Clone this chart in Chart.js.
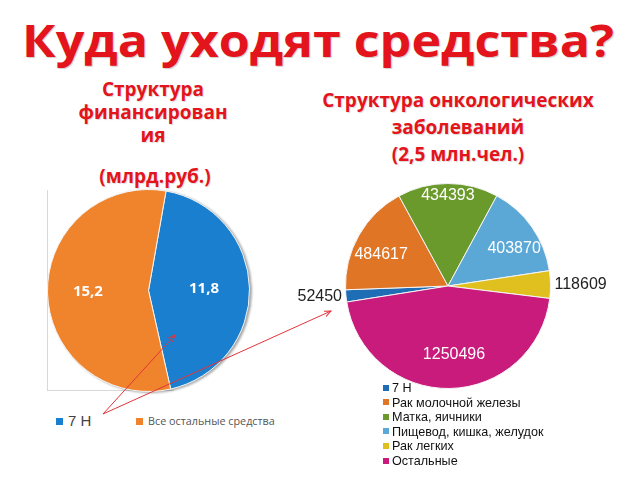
<!DOCTYPE html>
<html>
<head>
<meta charset="utf-8">
<script src="https://cdn.jsdelivr.net/npm/chart.js@4.4.1/dist/chart.umd.min.js"></script>
<style>
  body { margin: 0; background: #fff; }
  #page { position: relative; width: 640px; height: 480px; overflow: hidden; font-family: "Open Sans", sans-serif; }
  .red { color: #e3141c; font-weight: bold; text-align: center; position: absolute; text-shadow: 1px 1px 1px rgba(0,0,0,0.15); }
  canvas { position: absolute; }
  .legend { position: absolute; }
  .legend .item { position: relative; white-space: nowrap; }
  .legend .sw { display: inline-block; }
</style>
</head>
<body>
<div id="page">
  <svg width="640" height="70" style="position:absolute;left:0;top:0">
    <text x="318" y="57" text-anchor="middle" textLength="592" lengthAdjust="spacingAndGlyphs"
      font-family="Open Sans" font-weight="bold" font-size="45" fill="#e3141c"
      style="text-shadow:1px 1px 1px rgba(0,0,0,0.2)">Куда уходят средства?</text>
  </svg>
  <div class="red" style="left:48px;top:78px;width:210px;font-size:19px;line-height:23px">Структура<br>финансирован<br>ия</div>
  <div class="red" style="left:50px;top:164px;width:210px;font-size:19px;line-height:24px">(млрд.руб.)</div>
  <div class="red" style="left:300px;top:87px;width:316px;font-size:19px;line-height:27px">Структура онкологических<br>заболеваний<br>(2,5 млн.чел.)</div>

  <div style="position:absolute;left:47px;top:190px;width:126px;height:200px;border-left:1px solid #d8d8d8;border-bottom:1px solid #d8d8d8"></div>
  <canvas id="fund" width="203" height="203" style="left:47px;top:189px;filter:drop-shadow(2px 1px 1px rgba(0,0,0,0.35))"></canvas>
  <canvas id="onco" width="320" height="206" style="left:288px;top:183px"></canvas>

  <div id="fundLegend" class="legend" style="left:56px;top:412px"></div>
  <div id="oncoLegend" class="legend" style="left:383px;top:381px"></div>

  <svg width="640" height="480" style="position:absolute;left:0;top:0;pointer-events:none">
    <defs>
      <marker id="ah" markerWidth="8" markerHeight="8" refX="7" refY="4" orient="auto" markerUnits="userSpaceOnUse">
        <path d="M0,1 L7,4 L0,7" fill="none" stroke="#e2343a" stroke-width="1"/>
      </marker>
    </defs>
    <line x1="103" y1="414" x2="175" y2="335" stroke="#e2343a" stroke-width="1" marker-end="url(#ah)"/>
    <line x1="103" y1="414" x2="331" y2="311" stroke="#e2343a" stroke-width="1" marker-end="url(#ah)"/>
  </svg>
</div>
<script>
// left pie: financing structure, bln rub
const fundLabels = ['7 Н', 'Все остальные средства'];
const fundValues = [11.8, 15.2];
const fundColors = ['#1b7fd0', '#f0842c'];

// right pie: cancer structure, people
const oncoLabels = ['7 Н', 'Рак молочной железы', 'Матка, яичники', 'Пищевод, кишка, желудок', 'Рак легких', 'Остальные'];
const oncoValues = [52450, 484617, 434393, 403870, 118609, 1250496];
const oncoColors = ['#1f6db5', '#e07526', '#6b9a2c', '#5ba8d6', '#e0c01e', '#c91b7b'];

// draws value labels on the slices; radius factor > 1 means outside the pie
const sliceLabels = {
  id: 'sliceLabels',
  afterDatasetsDraw(chart, args, opts) {
    const ctx = chart.ctx;
    const meta = chart.getDatasetMeta(0);
    const data = chart.data.datasets[0].data;
    ctx.save();
    ctx.font = opts.font;
    ctx.textBaseline = 'middle';
    meta.data.forEach((arc, i) => {
      const mid = (arc.startAngle + arc.endAngle) / 2 + (opts.shift ? opts.shift[i] : 0);
      const f = opts.radius[i];
      const text = opts.format(data[i]);
      if (f > 1) {
        const r = arc.outerRadius + 4;
        ctx.fillStyle = opts.outsideColor;
        ctx.textAlign = Math.cos(mid) < 0 ? 'right' : 'left';
        ctx.fillText(text, arc.x + Math.cos(mid) * r, arc.y + Math.sin(mid) * r);
      } else {
        const r = arc.outerRadius * f;
        ctx.fillStyle = opts.color;
        ctx.textAlign = 'center';
        ctx.fillText(text, arc.x + Math.cos(mid) * r, arc.y + Math.sin(mid) * r);
      }
    });
    ctx.restore();
  }
};

function pie(id, labels, values, colors, rotation, padding, labelOpts) {
  return new Chart(document.getElementById(id), {
    type: 'pie',
    data: {
      labels: labels,
      datasets: [{
        data: values,
        backgroundColor: colors,
        borderColor: '#f4f4f4',
        borderWidth: 1
      }]
    },
    options: {
      responsive: false,
      animation: false,
      rotation: rotation,
      layout: { padding: padding },
      plugins: {
        legend: { display: false },
        tooltip: { enabled: false },
        sliceLabels: labelOpts
      }
    },
    plugins: [sliceLabels]
  });
}

pie('fund', fundLabels, fundValues, fundColors, 10, 0, {
  font: 'bold 15px "Open Sans"',
  color: '#fff',
  outsideColor: '#000',
  radius: [0.55, 0.6],
  format: v => String(v).replace('.', ',')
});

pie('onco', oncoLabels, oncoValues, oncoColors, 261, { left: 57, right: 57 }, {
  font: '16px "Liberation Sans", Arial',
  color: '#fff',
  outsideColor: '#222',
  radius: [1.1, 0.72, 0.88, 0.74, 1.1, 0.67],
  shift: [0, -0.08, 0, 0.1, 0, -0.07],
  format: v => String(v)
});

// legends built from the same arrays
function legend(el, labels, colors, style) {
  const box = document.getElementById(el);
  labels.forEach((lab, i) => {
    const item = document.createElement('div');
    item.className = 'item';
    item.style.cssText = style.item(i);
    const sw = document.createElement('span');
    sw.className = 'sw';
    sw.style.cssText = 'width:' + style.sw + 'px;height:' + style.sw + 'px;background:' + colors[i] + ';margin-right:' + style.gap + 'px;vertical-align:middle;position:relative;top:-1px';
    item.appendChild(sw);
    item.appendChild(document.createTextNode(lab));
    box.appendChild(item);
  });
}

legend('fundLegend', fundLabels, fundColors, {
  sw: 7, gap: 5,
  item: i => i === 0
    ? 'position:absolute;left:0;top:0;font:15px "Liberation Sans",Arial;color:#444;line-height:18px'
    : 'position:absolute;left:80px;top:1px;font:10.8px "Open Sans";color:#555;line-height:16px'
});

legend('oncoLegend', oncoLabels, oncoColors, {
  sw: 6, gap: 3,
  item: i => 'font:12.6px "Liberation Sans",Arial;color:#111;line-height:14.6px'
});
</script>
</body>
</html>
